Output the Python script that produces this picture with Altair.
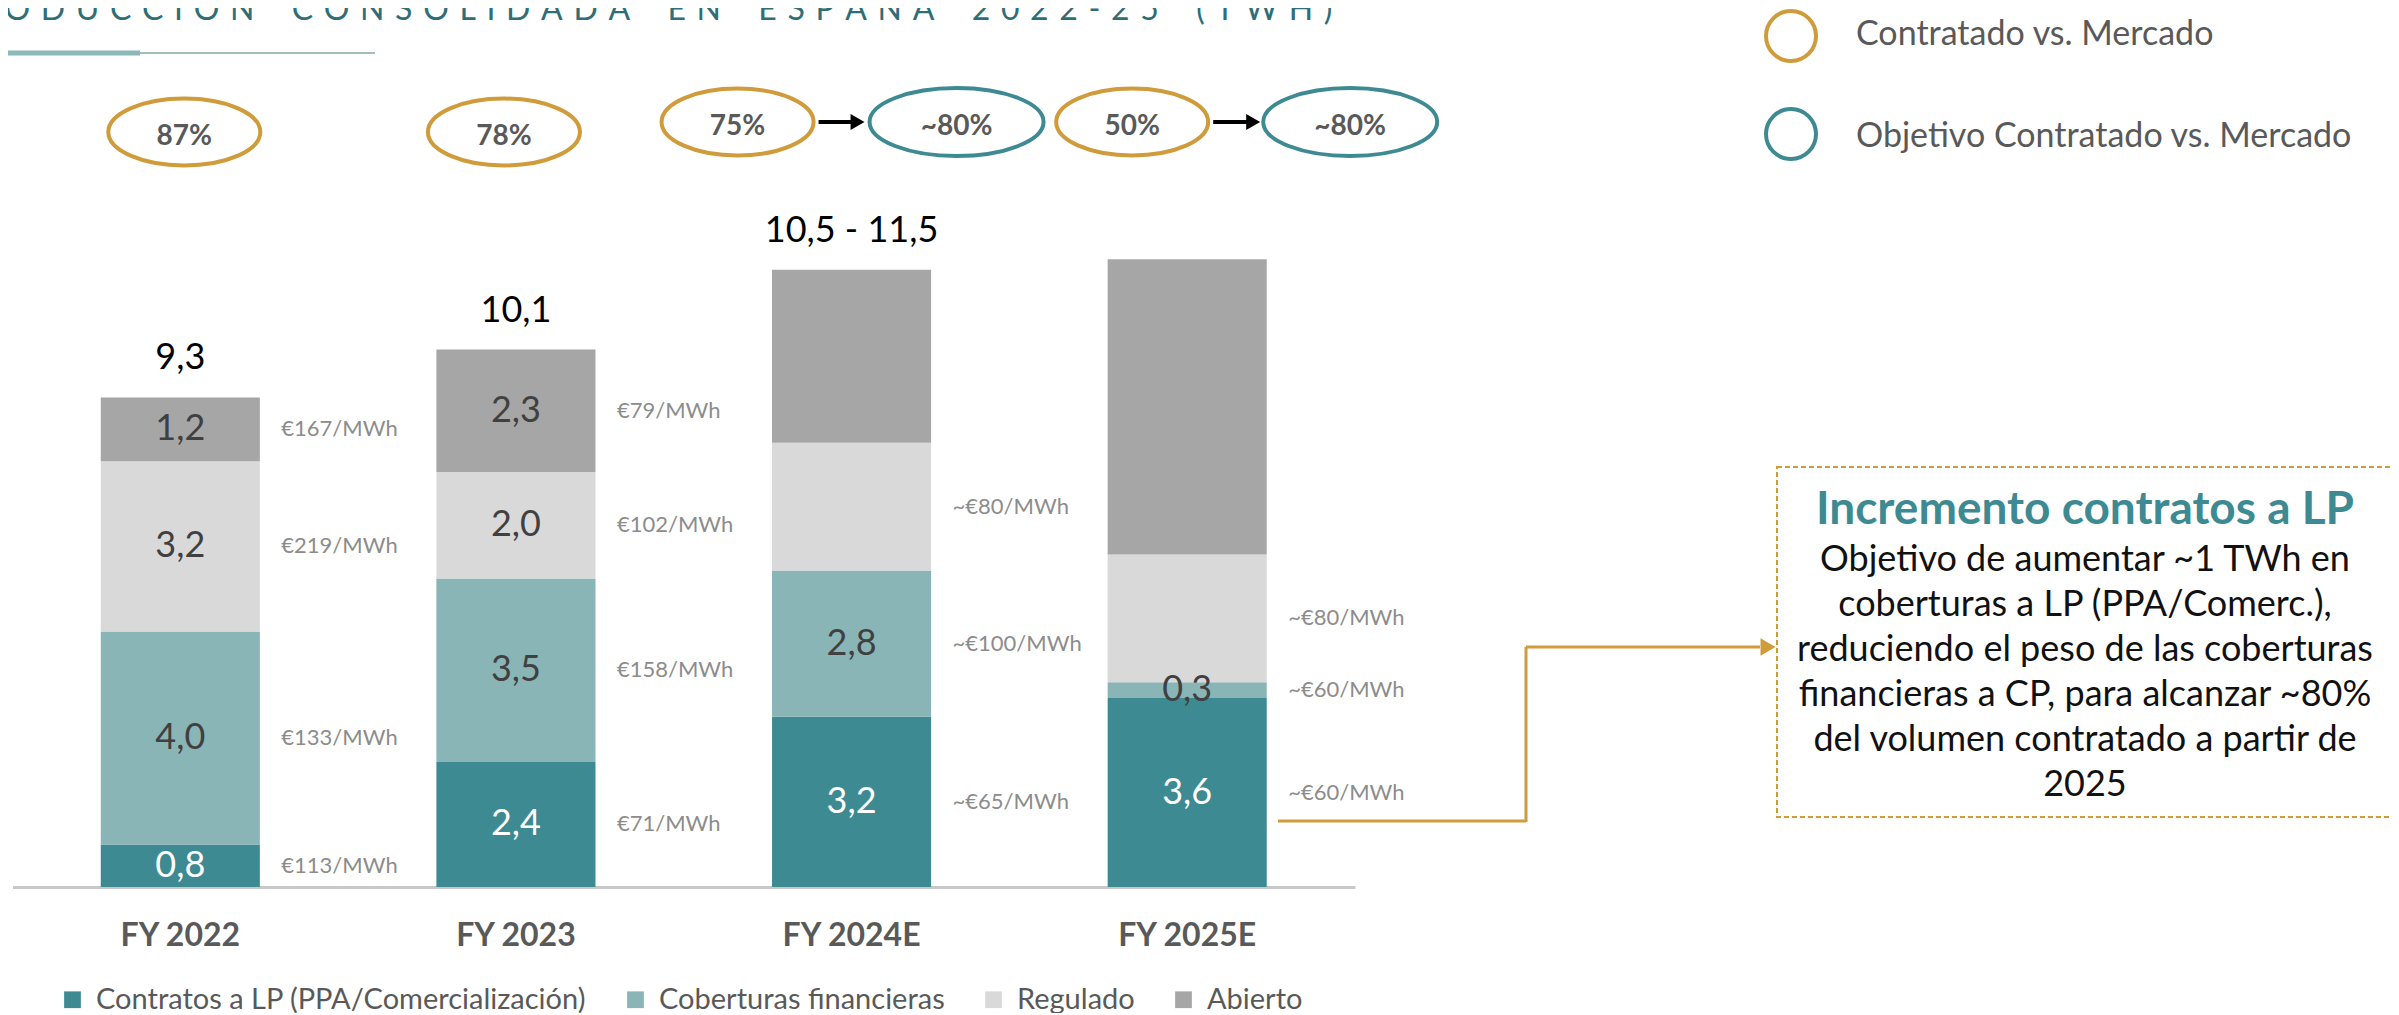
import altair as alt
import pandas as pd

# ---------------- data ----------------
categories = ["FY 2022", "FY 2023", "FY 2024E", "FY 2025E"]
segments = ["Contratos a LP (PPA/Comercialización)", "Coberturas financieras", "Regulado", "Abierto"]
seg_colors = ["#3d8a93", "#8ab5b6", "#d9d9d9", "#a6a6a6"]

lp_values = [0.8, 2.35, 3.2, 3.55]
cob_values = [4.0, 3.45, 2.75, 0.3]
reg_values = [3.2, 2.0, 2.4, 2.4]
abi_values = [1.2, 2.3, 3.25, 5.55]

lp_labels = ["0,8", "2,4", "3,2", "3,6"]
cob_labels = ["4,0", "3,5", "2,8", "0,3"]
reg_labels = ["3,2", "2,0", "", ""]
abi_labels = ["1,2", "2,3", "", ""]

lp_prices = ["€113/MWh", "€71/MWh", "~€65/MWh", "~€60/MWh"]
cob_prices = ["€133/MWh", "€158/MWh", "~€100/MWh", "~€60/MWh"]
reg_prices = ["€219/MWh", "€102/MWh", "~€80/MWh", "~€80/MWh"]
abi_prices = ["€167/MWh", "€79/MWh", "", ""]

total_labels = ["9,3", "10,1", "10,5 - 11,5", ""]

oval_kinds = ["Contratado vs. Mercado", "Objetivo Contratado vs. Mercado"]
oval_kind_colors = ["#cf9b3b", "#3d8a93"]
oval_cats = ["FY 2022", "FY 2023", "FY 2024E", "FY 2024E", "FY 2025E", "FY 2025E"]
oval_labels = ["87%", "78%", "75%", "~80%", "50%", "~80%"]
oval_kind_of = [0, 0, 0, 1, 0, 1]
arrow_cats = ["FY 2024E", "FY 2025E"]

title_words = ["PRODUCCIÓN", "CONSOLIDADA", "EN", "ESPAÑA", "2022-25", "(TWH)"]
box_title = "Incremento contratos a LP"
box_lines = [
    "Objetivo de aumentar ~1 TWh en",
    "coberturas a LP (PPA/Comerc.),",
    "reduciendo el peso de las coberturas",
    "financieras a CP, para alcanzar ~80%",
    "del volumen contratado a partir de",
    "2025",
]

# ---------------- layout (pixels) ----------------
W, H = 2383, 879
FONT = "Lato"
GOLD = "#cf9b3b"
TEAL = "#3d8a93"
oval_dx = [4, -12, -114, 105, -55, 163]
oval_y = [124, 124, 114, 114, 114, 114]
arrow_dx0 = [-33, 26]
arrow_dx1 = [2, 62]

vals = [lp_values, cob_values, reg_values, abi_values]
lbls = [lp_labels, cob_labels, reg_labels, abi_labels]
prcs = [lp_prices, cob_prices, reg_prices, abi_prices]
rows = []
for i, c in enumerate(categories):
    for j, s in enumerate(segments):
        rows.append(dict(cat=c, seg=s, order=j, value=vals[j][i], vlabel=lbls[j][i],
                         price=prcs[j][i], tlabel=total_labels[i]))
df = pd.DataFrame(rows)

x_axis = alt.Axis(title=None, labelAngle=0, ticks=False, domainColor="#c8c8c8", domainWidth=3,
                  labelFont=FONT, labelFontWeight="bold", labelFontSize=32, labelColor="#595959",
                  labelPadding=48, labelBaseline="middle", grid=False)
x_scale = alt.Scale(domain=categories, range=[4.5, 1347], paddingInner=0.526, paddingOuter=0.263)
X = alt.X("cat:N", scale=x_scale, axis=x_axis, sort=categories)
y_scale = alt.Scale(domain=[0, 16.52], nice=False, zero=True)

base = alt.Chart(df)

bars = base.mark_bar().encode(
    x=X,
    y=alt.Y("value:Q", stack="zero", scale=y_scale, axis=None),
    color=alt.Color("seg:N", scale=alt.Scale(domain=segments, range=seg_colors),
                    legend=alt.Legend(title=None, orient="none", legendX=50, legendY=977,
                                      direction="horizontal", symbolType="square", symbolSize=280,
                                      symbolStrokeWidth=0, labelFont=FONT, labelFontSize=29,
                                      labelColor="#595959", labelLimit=1000, columnPadding=34,
                                      labelOffset=9, padding=0)),
    order=alt.Order("order:Q", sort="ascending"),
)

stacked = base.transform_stack(
    stack="value", groupby=["cat"], as_=["v0", "v1"],
    sort=[alt.SortField("order", order="ascending")]
).transform_calculate(mid="(datum.v0 + datum.v1) / 2")

value_text = stacked.transform_filter("datum.vlabel != ''").mark_text(
    font=FONT, fontSize=36, baseline="middle", align="center"
).encode(
    x=X,
    y=alt.Y("mid:Q", scale=y_scale, axis=None),
    text="vlabel:N",
    color=alt.condition("datum.order == 0", alt.value("#ffffff"), alt.value("#404040")),
)

price_text = stacked.transform_filter("datum.price != ''").mark_text(
    font=FONT, fontSize=22, baseline="middle", align="left", xOffset=101, color="#8c8c8c"
).encode(
    x=X,
    y=alt.Y("mid:Q", scale=y_scale, axis=None),
    text="price:N",
)

total_text = base.transform_joinaggregate(total="sum(value)", groupby=["cat"]).transform_filter(
    "datum.order == 0 && datum.tlabel != ''"
).mark_text(font=FONT, fontSize=36, baseline="middle", align="center", dy=-39, color="#000000").encode(
    x=X,
    y=alt.Y("total:Q", scale=y_scale, axis=None),
    text="tlabel:N",
)

layers = [bars, value_text, price_text, total_text]

# ovals above the bars
oval_paths = [
    "M -1 0 A 1 0.44 0 1 0 1 0 A 1 0.44 0 1 0 -1 0 Z",
    "M -1 0 A 1 0.39 0 1 0 1 0 A 1 0.39 0 1 0 -1 0 Z",
]
oval_sizes = [152 ** 2, 174 ** 2]
for k in range(len(oval_labels)):
    kind = oval_kind_of[k]
    odf = pd.DataFrame({"cat": [oval_cats[k]], "label": [oval_labels[k]]})
    oc = alt.Chart(odf)
    layers.append(oc.mark_point(shape=oval_paths[kind], size=oval_sizes[kind], filled=False,
                                strokeWidth=4, opacity=1, color=oval_kind_colors[kind],
                                xOffset=oval_dx[k]).encode(x=X, y=alt.value(oval_y[k])))
    layers.append(oc.mark_text(font=FONT, fontSize=28, fontWeight="bold", color="#595959",
                               baseline="middle", align="center", xOffset=oval_dx[k]).encode(
        x=X, y=alt.value(oval_y[k] + 5), text="label:N"))

for k in range(len(arrow_cats)):
    adf = pd.DataFrame({"cat": [arrow_cats[k]]})
    ac = alt.Chart(adf)
    layers.append(ac.mark_rule(strokeWidth=4, color="#000000", xOffset=arrow_dx0[k],
                               x2Offset=arrow_dx1[k]).encode(x=X, x2="cat:N", y=alt.value(114)))
    layers.append(ac.mark_point(shape="triangle-right", size=260, filled=True, color="#000000",
                                opacity=1, xOffset=arrow_dx1[k] + 4).encode(x=X, y=alt.value(114)))

# legend of ovals (top right)
leg_df = pd.DataFrame({"kind": oval_kinds, "col": oval_kind_colors, "yy": [28, 126], "ty": [37, 139]})
layers.append(alt.Chart(leg_df).mark_point(shape="circle", size=2500, filled=False, strokeWidth=4,
                                           opacity=1).encode(
    x=alt.value(1783), y=alt.Y("yy:Q", scale=None), color=alt.Color("col:N", scale=None, legend=None)))
layers.append(alt.Chart(leg_df).mark_text(font=FONT, fontSize=34, align="left", baseline="alphabetic",
                                          color="#595959").encode(
    x=alt.value(1848), y=alt.Y("ty:Q", scale=None), text="kind:N"))

# title
sep = "\u2004"
title_text = (sep + "\u2002" + sep).join(sep.join(list(w)) for w in title_words)
tdf = pd.DataFrame({"t": [title_text]})
layers.append(alt.Chart(tdf).mark_text(font=FONT, fontSize=32, align="left", baseline="alphabetic",
                                       color="#2f6e76").encode(x=alt.value(-64), y=alt.value(12), text="t:N"))
layers.append(alt.Chart(tdf).mark_rule(strokeWidth=5, color="#8bb8b8").encode(
    x=alt.value(0), x2=alt.value(132), y=alt.value(45)))
layers.append(alt.Chart(tdf).mark_rule(strokeWidth=2, color="#a3bfba").encode(
    x=alt.value(132), x2=alt.value(367), y=alt.value(45)))

# connector + box
layers.append(alt.Chart(tdf).mark_rule(strokeWidth=3, color=GOLD).encode(
    x=alt.value(1270), x2=alt.value(1518), y=alt.value(813)))
layers.append(alt.Chart(tdf).mark_rule(strokeWidth=3, color=GOLD).encode(
    x=alt.value(1518), y=alt.value(639), y2=alt.value(814)))
layers.append(alt.Chart(tdf).mark_rule(strokeWidth=3, color=GOLD).encode(
    x=alt.value(1518), x2=alt.value(1752), y=alt.value(639)))
layers.append(alt.Chart(tdf).mark_point(shape="triangle-right", size=300, filled=True, color=GOLD,
                                        opacity=1).encode(x=alt.value(1760), y=alt.value(639)))
layers.append(alt.Chart(tdf).mark_rect(fill="#ffffff", stroke=GOLD, strokeWidth=2,
                                       strokeDash=[5, 3]).encode(
    x=alt.value(1769), x2=alt.value(2384), y=alt.value(459), y2=alt.value(809)))
bdf = pd.DataFrame({"title": [box_title], "body": ["\n".join(box_lines)]})
layers.append(alt.Chart(bdf).mark_text(font=FONT, fontSize=46, fontWeight="bold", color=TEAL,
                                       align="center", baseline="alphabetic").encode(
    x=alt.value(2077), y=alt.value(516), text="title:N"))
layers.append(alt.Chart(bdf).mark_text(font=FONT, fontSize=36, color="#111111", align="center",
                                       baseline="alphabetic", lineBreak="\n", lineHeight=45).encode(
    x=alt.value(2077), y=alt.value(563), text="body:N"))

chart = alt.layer(*layers).properties(
    width=W, height=H,
    autosize=alt.AutoSizeParams(type="none"),
    padding={"left": 0, "right": 0, "top": 0, "bottom": 126},
).configure(font=FONT).configure_view(strokeWidth=0, stroke=None)

chart.save("out.html", embed_options={"renderer": "svg", "actions": False})
